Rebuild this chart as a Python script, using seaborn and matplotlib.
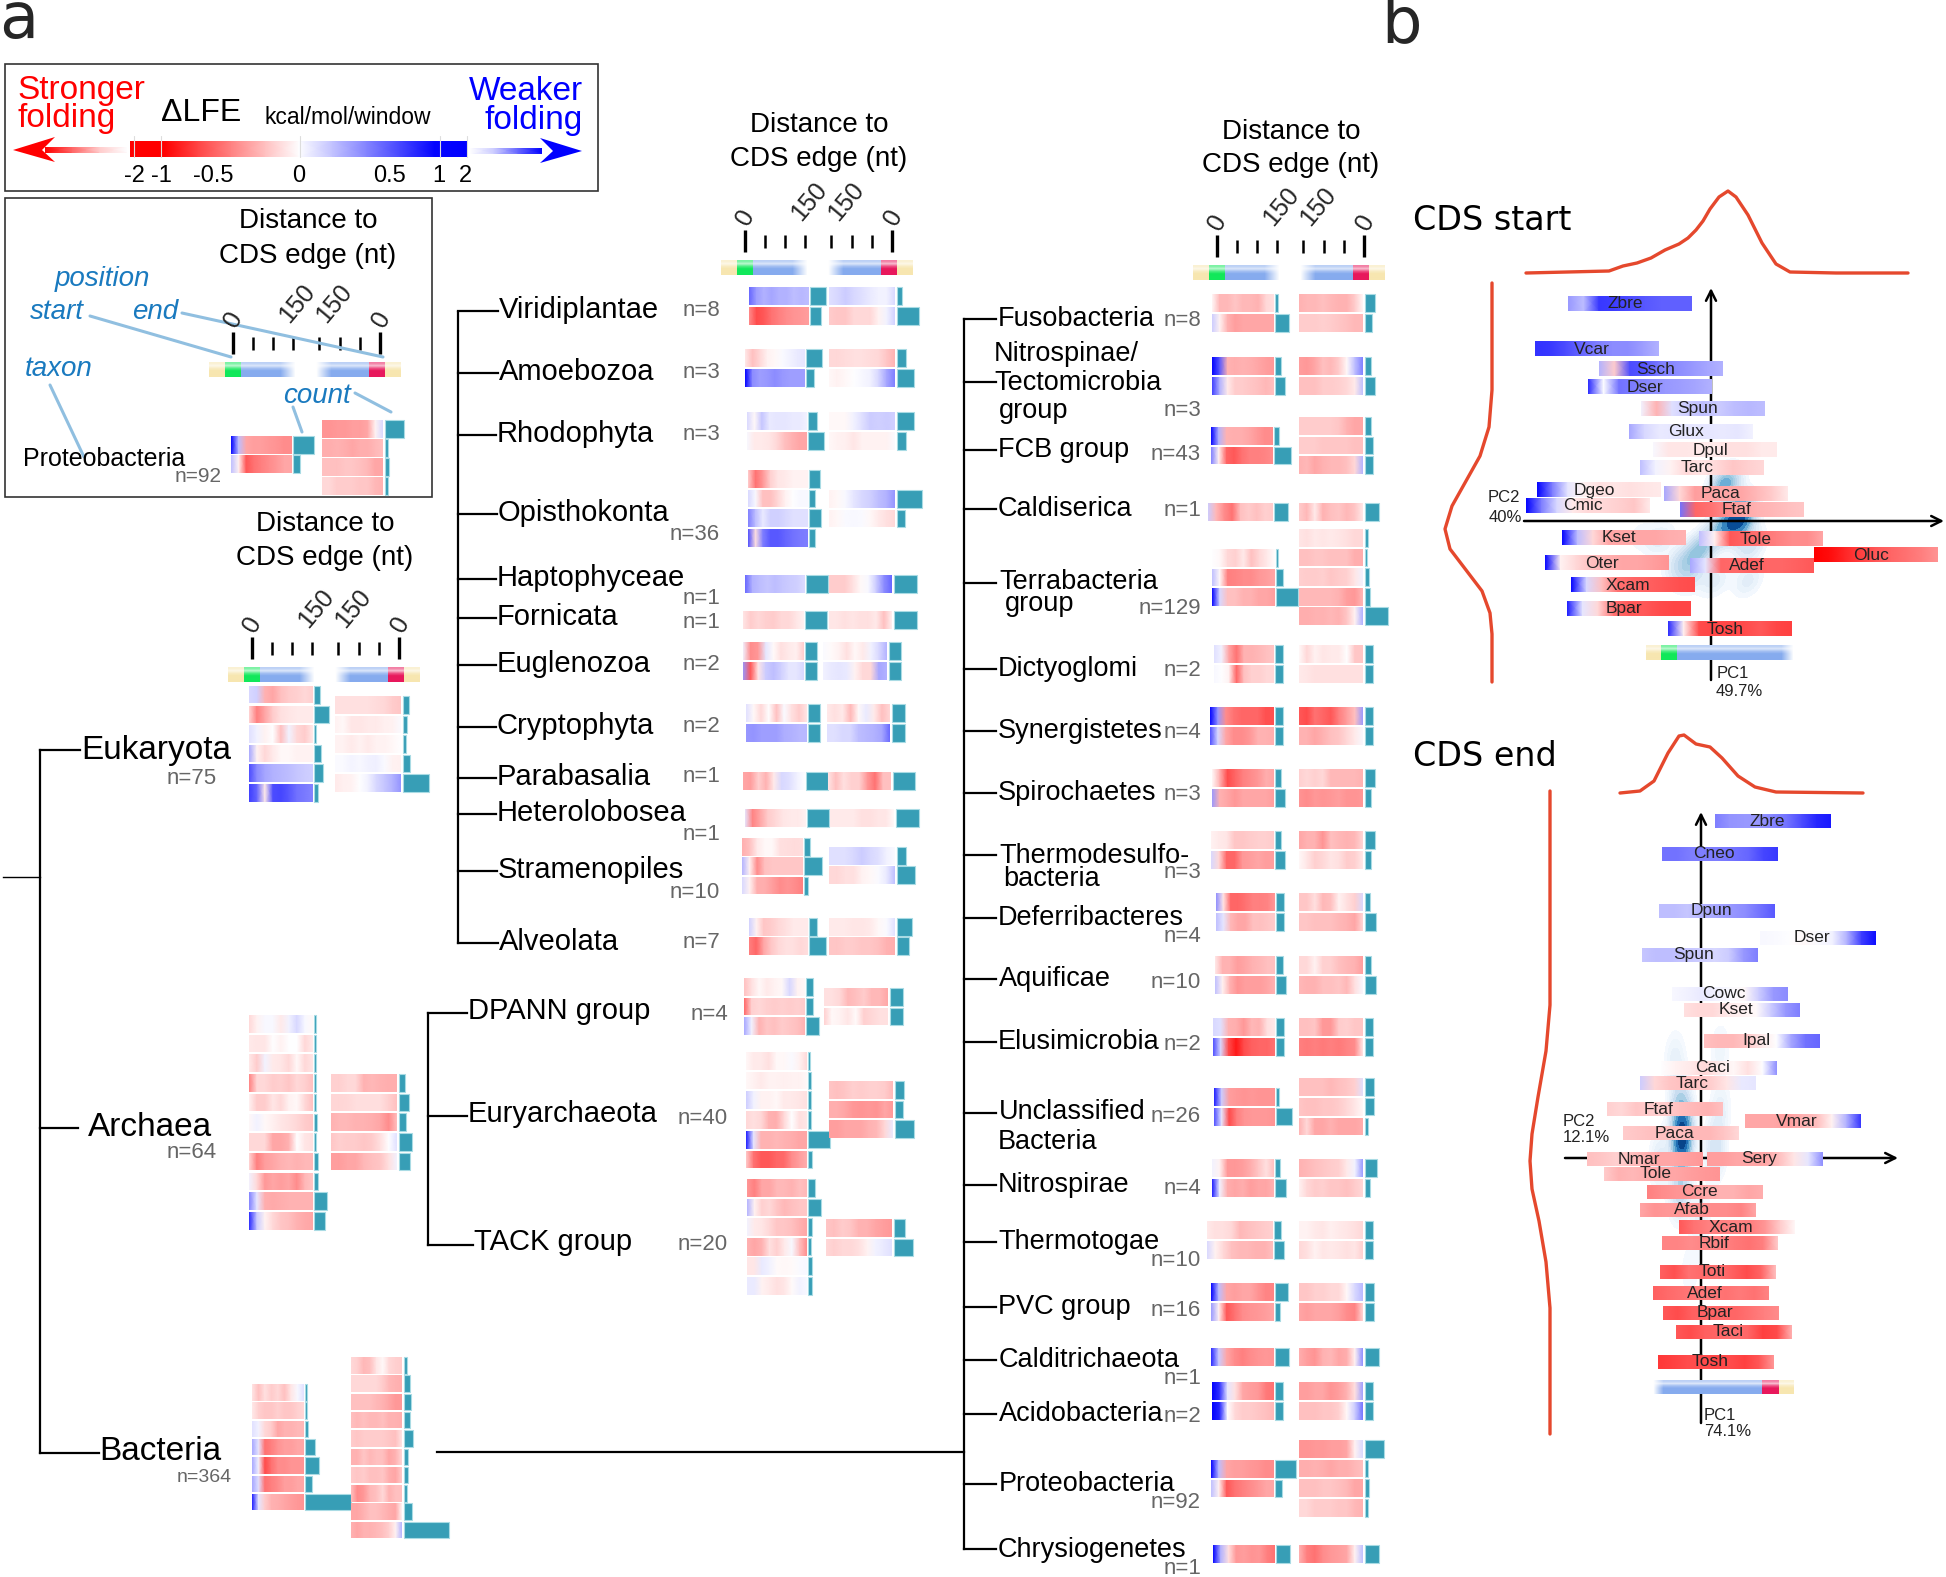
import numpy as np
import pandas as pd
import matplotlib
matplotlib.use("Agg")
from matplotlib import pyplot as plt
from matplotlib.patches import Polygon, Rectangle
import seaborn as sns

W, H = 1946, 1577

# delta LFE along each strip, hundredths of the colour scale (neg = red = stronger folding)
start_vals = {
    "Eukaryota": [[15,18,-30,-35,-25,-20,-18,-15,-18],[-15,-50,-35,-20,-12,-10,-8,-8,-8],[12,5,-5,0,-25,5,-15,-20,-8],
                  [35,-5,-15,-8,-3,-3,-5,-5,-5],[70,45,35,30,28,25,22,20,18],[75,60,-8,70,72,65,55,52,48]],
    "Archaea": [[-15,-5,3,3,-8,5,15,3,-3],[-8,-10,-10,0,-5,0,0,-15,-8],[-8,-20,5,-8,-10,-15,-3,-15,-10],
                [-50,-15,-15,-20,-18,-22,-15,-18,-25],[-5,-20,-20,-10,-15,-5,-3,-15,-25],[-3,5,-3,-6,-10,-12,-15,-20,-22],
                [-15,-15,-15,-35,-35,-30,0,-10,-12],[-15,-50,-38,-35,-30,-28,-30,-28,-28],[5,-15,-40,-35,-38,-35,-45,-28,-22],
                [50,10,-32,-33,-32,-30,-30,-30,-30],[85,20,-5,-15,-22,-25,-30,-33,-35]],
    "Bacteria": [[-10,-25,-12,-20,-15,-25,-10,3,12],[-8,-18,-22,-22,-18,-22,-22,-18,-15],[12,5,-15,-20,-35,-30,-30,-28,-28],
                 [35,10,-55,-50,-42,-38,-38,-35,-35],[35,5,-70,-55,-45,-45,-42,-42,-42],[35,12,-55,-50,-45,-38,-38,-35,-35],
                 [90,10,-20,-30,-32,-35,-38,-40,-42]],
    "Viridiplantae": [[60,38,30,35,30,30,25,28,25],[-45,-70,-65,-55,-50,-45,-42,-40,-38]],
    "Amoebozoa": [[-8,-25,-15,-5,-3,2,5,8,10],[100,45,38,40,45,40,38,38,38]],
    "Rhodophyta": [[15,-3,22,8,10,10,8,8,5],[3,-8,-8,-10,-15,-25,-30,-35,-35]],
    "Opisthokonta": [[-18,-55,-40,-18,-10,-8,-5,-5,-5],[15,3,-25,-25,-15,-5,0,3,3],[50,25,8,18,18,15,12,12,12],[70,-12,50,65,65,60,55,52,50]],
    "Haptophyceae": [[60,30,25,22,25,22,20,18,14]],
    "Fornicata": [[-10,-20,-15,-18,-20,-15,-15,-10,-5]],
    "Euglenozoa": [[5,-45,-40,10,-2,-12,-8,-6,-20],[40,-65,-10,20,25,18,10,10,15]],
    "Cryptophyta": [[12,-3,-15,0,-25,2,-12,-20,-10],[40,42,38,38,38,32,30,28,28]],
    "Parabasalia": [[-35,-38,-18,-30,-8,15,12,5,0]],
    "Heterolobosea": [[10,-48,-35,-20,-15,-10,-8,-8,-5]],
    "Stramenopiles": [[-32,-25,-8,-3,-3,-12,-13,-14,-13],[30,-5,-45,-25,-22,-22,-22,-22,-22],[15,-5,-32,-32,-38,-45,-42,-45,-50]],
    "Alveolata": [[18,-5,-22,-20,-15,-12,-8,-8,-8],[-50,-60,-35,-22,-15,-12,-12,-15,-13]],
    "DPANN": [[-25,-12,-3,-8,-5,-3,15,-5,-3],[-60,-18,-15,-18,-20,-18,-20,-18,-20],[35,5,-30,-22,-25,-20,-22,-25,-30]],
    "Euryarchaeota": [[-3,-8,-8,-12,-3,-3,2,-5,-15],[-3,-5,-8,-5,-5,-6,-5,-5,-3],[20,5,-5,-5,-3,-8,-8,-10,-12],
                      [-15,-12,-15,-30,-32,-15,0,-12,-10],[90,10,-30,-30,-28,-30,-32,-35,-35],[-20,-55,-65,-65,-60,-58,-45,-38,-32]],
    "TACK": [[-40,-50,-35,-35,-28,-28,-30,-25,-28],[30,-5,-18,-15,-22,-28,-25,-22,-22],[5,-8,-10,-15,-22,-22,-25,-30,-35],
             [-30,-35,-30,-12,-18,-8,3,-25,-45],[-10,-10,8,5,-2,-3,-2,2,3],[8,8,-5,-8,-12,-10,-2,5,3]],
    "Fusobacteria": [[-3,-28,-28,-22,-28,-28,-30,-15,-12],[20,-5,-30,-38,-35,-35,-35,-35,-35]],
    "Nitrospinae": [[100,65,-30,-32,-30,-32,-35,-38,-40],[75,30,-8,-20,-20,-22,-25,-28,-25]],
    "FCB": [[100,30,-30,-32,-32,-35,-40,-45,-45],[50,-5,-60,-65,-55,-50,-50,-48,-45]],
    "Caldiserica": [[20,-28,-45,-55,-25,-20,-25,-18,-20]],
    "Terrabacteria": [[0,-3,-15,-18,-8,-25,-15,-8,0],[25,-3,-50,-48,-45,-45,-40,-38,-35],[100,15,-25,-25,-30,-30,-35,-35,-38]],
    "Dictyoglomi": [[12,5,-35,-55,-30,-30,-28,-25,-22],[3,0,-5,-60,-25,-18,-18,-15,-15]],
    "Synergistetes": [[100,40,-45,-55,-60,-60,-60,-68,-68],[70,15,-35,-45,-45,-40,-30,-30,-32]],
    "Spirochaetes": [[-2,-30,-70,-60,-50,-45,-40,-32,-35],[40,-30,-35,-40,-35,-35,-35,-35,-38]],
    "Thermodesulfobacteria": [[-5,-8,-10,-22,-22,-20,-18,-18,-20],[15,-15,-60,-60,-40,-38,-35,-38,-38]],
    "Deferribacteres": [[45,-10,-60,-60,-55,-50,-50,-48,-40],[25,10,-28,-35,-35,-25,-25,-22,-20]],
    "Aquificae": [[-8,-30,-30,-38,-35,-30,-28,-25,-25],[25,-5,-30,-42,-38,-38,-38,-35,-30]],
    "Elusimicrobia": [[15,12,-30,-32,-40,-28,-30,-12,-8],[70,15,-70,-90,-70,-62,-60,-60,-55]],
    "Unclassified": [[90,20,-38,-40,-42,-40,-42,-42,-42],[70,10,-70,-50,-42,-40,-40,-40,-42]],
    "Nitrospirae": [[5,-5,-40,-40,-38,-32,-22,-12,-25],[90,5,-32,-35,-32,-38,-35,-35,-30]],
    "Thermotogae": [[-8,-12,-12,-15,-28,-25,-22,-20,-18],[15,-5,-15,-25,-28,-28,-30,-30,-25]],
    "PVC": [[100,25,-35,-38,-35,-35,-42,-48,-48],[40,-5,-65,-55,-45,-42,-40,-38,-35]],
    "Calditrichaeota": [[85,20,-35,-45,-50,-45,-42,-40,-42]],
    "Acidobacteria": [[100,80,10,-12,-35,-38,-40,-52,-55],[100,85,0,-15,-20,-20,-22,-25,-28]],
    "Proteobacteria": [[100,25,-35,-38,-38,-40,-42,-45,-45],[25,-5,-65,-55,-50,-45,-40,-35,-35]],
    "Chrysiogenetes": [[100,30,-12,-40,-38,-42,-40,-50,-55]],
}

end_vals = {
    "Eukaryota": [[-12,-12,-12,-12,-12,-14,-15,-20,-22],[-5,-3,-10,-10,-8,-8,-6,-5,2],[-5,-5,-8,-5,-8,-5,-5,-3,0],
                  [2,2,4,3,5,6,2,-5,-6],[-8,-6,-5,0,5,15,22,30,42]],
    "Archaea": [[-18,-18,-15,-15,-30,-28,-30,-32,-32],[-16,-16,-15,-13,-13,-13,-13,-18,-25],[-30,-28,-28,-30,-30,-32,-35,-45,-25],
                [-22,-18,-20,-20,-22,-20,-12,0,12],[-38,-38,-35,-35,-28,-25,-22,-12,5]],
    "Bacteria": [[-15,-18,-28,-25,-10,-3,-15,-18,-20],[-15,-15,-15,-15,-15,-20,-28,-30,-32],[-25,-25,-25,-25,-28,-30,-35,-40,-40],
                 [-25,-28,-25,-28,-28,-25,-30,-30,-32],[-20,-22,-20,-20,-20,-20,-22,-25,-10],[-30,-30,-22,-28,-25,-25,-35,-30,-15],
                 [-20,-22,-20,-25,-25,-22,-32,-35,-20],[-25,-45,-40,-28,-25,-15,-30,-25,-25],[-35,-35,-30,-25,-25,-28,-32,-35,-3],
                 [-30,-35,-30,-30,-28,-25,-18,-5,30]],
    "Viridiplantae": [[12,15,20,15,12,8,5,5,15],[-20,-22,-22,-15,-15,-15,-5,5,18]],
    "Amoebozoa": [[-15,-15,-14,-12,-12,-14,-15,-22,-30],[-3,-5,-3,0,3,5,15,35,50]],
    "Rhodophyta": [[-3,-3,-3,5,12,20,18,20,18],[-3,-5,-6,-10,-5,-5,-5,-5,2]],
    "Opisthokonta": [[-5,-3,3,10,15,18,25,30,42],[-5,-3,2,3,2,-3,-8,-12,-15]],
    "Haptophyceae": [[-20,-20,-20,-12,-3,3,20,45,60]],
    "Fornicata": [[-10,-10,-12,-10,-12,-12,-8,-25,-5]],
    "Euglenozoa": [[2,-2,-5,-12,-3,-8,5,15,30],[5,8,10,8,-5,-15,-15,35,30]],
    "Cryptophyta": [[-8,-12,-8,-28,-3,8,-8,-25,-15],[12,12,15,15,25,28,30,35,60]],
    "Parabasalia": [[-10,-25,-12,-18,-18,-40,-55,-25,-25]],
    "Heterolobosea": [[-8,-8,-8,-8,-12,-12,-10,-10,-2]],
    "Stramenopiles": [[12,12,12,15,20,15,12,5,2],[-15,-15,-12,-12,-5,-3,2,8,25]],
    "Alveolata": [[-8,-8,-8,-10,-10,-8,-3,2,12],[-22,-22,-20,-20,-22,-22,-25,-30,-32]],
    "DPANN": [[-12,-12,-15,-28,-25,-20,-28,-28,-35],[-18,-3,-5,-10,-2,-18,-15,-12,-12]],
    "Euryarchaeota": [[-22,-25,-22,-18,-20,-18,-18,-20,-28],[-32,-32,-35,-40,-42,-40,-42,-35,-40],[-38,-38,-35,-35,-35,-30,-28,-15,8]],
    "TACK": [[-22,-25,-20,-22,-30,-30,-35,-38,-40],[-15,-18,-15,-15,-12,-5,5,8,12]],
    "Fusobacteria": [[-30,-28,-28,-25,-28,-30,-30,-20,-3],[-20,-20,-20,-18,-20,-22,-25,-28,-28]],
    "Nitrospinae": [[-38,-40,-35,-25,-28,-20,-3,25,50],[-25,-25,-25,-20,-20,-18,-15,-8,25]],
    "FCB": [[-20,-20,-20,-20,-20,-22,-30,-35,-35],[-20,-20,-20,-22,-22,-22,-22,-25,-25],[-30,-28,-35,-30,-28,-28,-25,-15,30]],
    "Caldiserica": [[-20,-28,-8,-30,-25,-22,-28,-22,-8]],
    "Terrabacteria": [[-10,-12,-8,-10,-8,-10,-12,-15,-15],[-25,-25,-22,-22,-25,-25,-25,-32,-32],[-18,-20,-20,-18,-22,-20,-18,-10,5],
                      [-28,-28,-28,-28,-28,-30,-38,-40,-28],[-32,-32,-30,-30,-28,-30,-22,-5,32]],
    "Dictyoglomi": [[-2,-15,-5,-10,-8,-8,0,-22,-22],[-8,-10,-12,-12,-12,-12,-12,-12,-12]],
    "Synergistetes": [[-65,-70,-55,-60,-65,-50,-38,-25,40],[-30,-30,-35,-30,-25,-22,-15,-8,3]],
    "Spirochaetes": [[-18,-15,-18,-15,-28,-28,-28,-28,-30],[-42,-45,-40,-42,-40,-38,-42,-42,-40]],
    "Thermodesulfobacteria": [[-35,-30,-30,-42,-25,-28,-30,-28,-15],[-3,-10,-18,-15,-10,-12,-20,-18,-8]],
    "Deferribacteres": [[-22,-22,-12,-28,-25,-5,-12,-18,15],[-22,-22,-25,-25,-25,-28,-30,-35,-15]],
    "Aquificae": [[-15,-15,-5,-18,-18,-25,-28,-30,-38],[-28,-30,-30,-25,-25,-22,-28,-12,3]],
    "Elusimicrobia": [[-25,-25,-22,-40,-40,-20,-18,-22,-22],[-50,-52,-50,-52,-50,-52,-48,-45,-8]],
    "Unclassified": [[-25,-25,-25,-25,-28,-25,-22,-18,12],[-22,-25,-25,-22,-22,-20,-15,-10,-3],[-30,-15,-35,-35,-30,-35,-35,-35,-32]],
    "Nitrospirae": [[-30,-28,-25,-22,-20,-18,-8,5,40],[-5,-15,-20,-18,-22,-22,-25,-20,-15]],
    "Thermotogae": [[-5,-5,-8,-10,-6,-8,-10,-12,-15],[-15,-12,-5,-10,-8,-10,-12,-10,-18]],
    "PVC": [[-22,-22,-18,-18,-15,-15,-3,15,28],[-35,-38,-35,-35,-35,-38,-45,-48,-15]],
    "Calditrichaeota": [[-32,-38,-42,-30,-28,-35,-32,-5,45]],
    "Acidobacteria": [[-38,-38,-35,-35,-42,-38,-30,-12,38],[-25,-25,-25,-22,-22,-18,-3,20,55]],
    "Proteobacteria": [[-42,-42,-40,-40,-38,-38,-35,-5,15],[-32,-32,-30,-32,-35,-32,-32,-28,-25],[-25,-25,-25,-22,-22,-25,-28,-35,-35],[-15,-15,-20,-20,-20,-22,-22,-28,-30]],
    "Chrysiogenetes": [[-30,-50,-55,-45,-40,-38,-35,-5,25]],
}

# teal count bars
start_counts = {"Eukaryota":[6,15,2,7,9,4],"Archaea":[2,2,2,2,2,3,2,4,4,13,11],"Bacteria":[2,2,3,10,14,7,46],
    "Viridiplantae":[16,11],"Amoebozoa":[16,8],"Rhodophyta":[9,16],"Opisthokonta":[11,6,12,6],"Haptophyceae":[22],"Fornicata":[22],
    "Euglenozoa":[12,12],"Cryptophyta":[12,12],"Parabasalia":[22],"Heterolobosea":[22],"Stramenopiles":[6,18,4],"Alveolata":[8,17],
    "DPANN":[7,7,13],"Euryarchaeota":[2,3,3,3,22,4],"TACK":[7,13,4,3,4,4],
    "Fusobacteria":[3,14],"Nitrospinae":[6,10],"FCB":[5,17],"Caldiserica":[14],"Terrabacteria":[2,7,22],"Dictyoglomi":[8,8],
    "Synergistetes":[8,8],"Spirochaetes":[6,10],"Thermodesulfobacteria":[6,10],"Deferribacteres":[8,8],"Aquificae":[7,10],
    "Elusimicrobia":[8,8],"Unclassified":[3,16],"Nitrospirae":[5,11],"Thermotogae":[7,10],"PVC":[13,5],"Calditrichaeota":[14],
    "Acidobacteria":[8,8],"Proteobacteria":[21,7],"Chrysiogenetes":[14]}
end_counts = {"Eukaryota":[6,4,3,7,26],"Archaea":[6,10,7,13,11],"Bacteria":[3,6,7,6,9,4,4,3,8,45],
    "Viridiplantae":[5,22],"Amoebozoa":[9,17],"Rhodophyta":[17,9],"Opisthokonta":[25,8],"Haptophyceae":[23],"Fornicata":[23],
    "Euglenozoa":[12,12],"Cryptophyta":[13,13],"Parabasalia":[22],"Heterolobosea":[23],"Stramenopiles":[9,18],"Alveolata":[15,12],
    "DPANN":[13,13],"Euryarchaeota":[9,8,19],"TACK":[11,19],
    "Fusobacteria":[10,7],"Nitrospinae":[6,10],"FCB":[6,8,8],"Caldiserica":[14],"Terrabacteria":[3,2,4,5,23],"Dictyoglomi":[8,8],
    "Synergistetes":[8,8],"Spirochaetes":[10,6],"Thermodesulfobacteria":[10,6],"Deferribacteres":[5,11],"Aquificae":[6,11],
    "Elusimicrobia":[8,8],"Unclassified":[9,9,3],"Nitrospirae":[12,5],"Thermotogae":[8,8],"PVC":[9,9],"Calditrichaeota":[14],
    "Acidobacteria":[8,8],"Proteobacteria":[19,3,4,3],"Chrysiogenetes":[14]}

# layout: left x, left y, right x, right y, left width, right width, pitch, height
blocks = {"Eukaryota":(249,686,335,696,64,66,19.6,17.5),"Archaea":(249,1015,331,1074,64,66,19.7,17.5),"Bacteria":(252,1384,351,1357,52,51,18.3,16.5),
    "Viridiplantae":(749,287,829,287,60,66,20,17.7),"Amoebozoa":(745,349,829,349,60,66,20,17.7),"Rhodophyta":(747,412,829,412,60,66,20,17.7),
    "Opisthokonta":(748,470,829,490,60,66,19.6,17.7),"Haptophyceae":(745,575,829,575,60,63,20,17.7),"Fornicata":(743,611,829,611,61,63,20,17.7),
    "Euglenozoa":(743,642,823,642,61,64,20,17.7),"Cryptophyta":(746,704,827,704,61,63,20,17.7),"Parabasalia":(743,772,828,772,62,63,20,17.7),
    "Heterolobosea":(745,809,830,809,61,64,20,17.7),"Stramenopiles":(742,838,829,847,61,66,19.4,17.7),"Alveolata":(749,918,829,918,59,66,19.4,17.7),
    "DPANN":(744,978,824,988,61,64,19.6,17.7),"Euryarchaeota":(746,1052,829,1081,61,64,19.7,17.7),"TACK":(747,1179,826,1219,60,66,19.6,17.7),
    "Fusobacteria":(1212,294,1299,294,62,64,20,17.7),"Nitrospinae":(1212,357,1299,357,62,64,20,17.7),"FCB":(1211,427,1299,417,62,64,19.7,17.7),
    "Caldiserica":(1208,503,1299,503,65,64,20,17.7),"Terrabacteria":(1212,549,1299,529,63,64,19.6,17.7),"Dictyoglomi":(1214,645,1299,645,60,64,20,17.7),
    "Synergistetes":(1210,707,1299,707,64,64,20,17.7),"Spirochaetes":(1212,769,1299,769,62,64,20,17.7),"Thermodesulfobacteria":(1211,831,1299,831,63,64,20,17.7),
    "Deferribacteres":(1216,893,1299,893,59,64,20,17.7),"Aquificae":(1215,956,1299,956,60,64,20,17.7),"Elusimicrobia":(1213,1018,1299,1018,62,64,20,17.7),
    "Unclassified":(1214,1088,1299,1078,61,64,19.8,17.7),"Nitrospirae":(1212,1159,1299,1159,62,64,20,17.7),"Thermotogae":(1207,1221,1299,1221,66,64,20,17.7),
    "PVC":(1211,1283,1299,1283,63,64,20,17.7),"Calditrichaeota":(1211,1348,1299,1348,63,64,20,17.7),"Acidobacteria":(1212,1382,1299,1382,62,64,20,17.7),
    "Proteobacteria":(1211,1460,1299,1440,63,64,19.7,17.7),"Chrysiogenetes":(1213,1545,1299,1545,62,64,20,17.7)}

# tree labels: text, x, y
mid_labels = [("Viridiplantae",499,310),("Amoebozoa",499,372),("Rhodophyta",497,434),("Opisthokonta",498,513),("Haptophyceae",497,578),
    ("Fornicata",497,617),("Euglenozoa",497,664),("Cryptophyta",497,726),("Parabasalia",497,777),("Heterolobosea",497,813),
    ("Stramenopiles",498,870),("Alveolata",499,942)]
mid_n = [("n=8",310),("n=3",372),("n=3",434),("n=36",535),("n=1",598),("n=1",623),("n=2",665),("n=2",727),("n=1",777),("n=1",835),("n=10",892),("n=7",942)]
arch_labels = [("DPANN group",468,1011),("Euryarchaeota",468,1114),("TACK group",474,1242)]
arch_n = [("n=4",1014),("n=40",1118),("n=20",1245)]
right_labels = [("Fusobacteria",998,319),("Nitrospinae/",994,354),("Tectomicrobia",994,383),("group",999,411),("FCB group",998,450),("Caldiserica",998,509),
    ("Terrabacteria",999,582),("group",1005,604),("Dictyoglomi",998,669),("Synergistetes",998,731),("Spirochaetes",998,793),("Thermodesulfo-",999,856),
    ("bacteria",1003,879),("Deferribacteres",998,918),("Aquificae",999,979),("Elusimicrobia",998,1042),("Unclassified",999,1112),("Bacteria",998,1142),
    ("Nitrospirae",998,1185),("Thermotogae",998,1242),("PVC group",998,1307),("Calditrichaeota",999,1360),("Acidobacteria",999,1414),
    ("Proteobacteria",999,1484),("Chrysiogenetes",998,1550)]
right_n = [("n=8",321),("n=3",410),("n=43",454),("n=1",511),("n=129",609),("n=2",671),("n=4",733),("n=3",795),("n=3",872),("n=4",936),("n=10",983),
    ("n=2",1045),("n=26",1116),("n=4",1188),("n=10",1260),("n=16",1310),("n=1",1379),("n=2",1416),("n=92",1502),("n=1",1569)]
right_ticks = [319,382,450,509,583,669,731,793,855,918,979,1042,1113,1185,1242,1307,1360,1414,1484,1549]

# panel b: CDS start
b1_names = ["Zbre","Vcar","Ssch","Dser","Spun","Glux","Dpul","Tarc","Dgeo","Cmic","Paca","Ftaf","Kset","Tole","Oluc","Oter","Adef","Xcam","Bpar","Tosh"]
b1_x = [1568,1535,1599,1588,1641,1629,1653,1640,1537,1526,1664,1680,1562,1699,1814,1545,1690,1571,1567,1668]
b1_y = [296,341,361,379,401,424,442,460,482,498,486,502,530,531,547,555,558,577,601,621]
b1_vals = [[40,25,78,75,70,65,62,62,62],[80,78,70,60,50,45,45,38,30],[30,-20,70,65,50,45,40,35,30],[85,0,55,50,45,40,38,35,30],[5,-30,12,20,25,20,25,28,25],
    [35,15,8,10,10,10,8,10,5],[3,-10,-10,-8,-8,-12,-12,-8,-8],[25,5,-5,-15,-10,-15,-22,-18,-15],[100,50,10,-5,-12,-10,-12,-10,-8],[100,50,15,-8,-15,-15,-18,-22,-8],
    [35,-15,-38,-35,-35,-35,-28,-20,-8],[55,-60,-55,-45,-35,-30,-28,-25,-22],[100,25,-15,-35,-35,-35,-35,-32,-30],[25,-5,-65,-60,-55,-50,-45,-45,-35],
    [-100,-95,-85,-75,-65,-60,-55,-50,-42],[100,-5,-15,-25,-30,-35,-35,-38,-42],[35,10,-60,-58,-62,-60,-60,-62,-65],[100,15,-25,-55,-60,-62,-65,-68,-70],
    [90,10,-15,-55,-65,-65,-70,-72,-72],[85,-5,-70,-72,-72,-70,-65,-72,-75]]

# panel b: CDS end
b2_names = ["Zbre","Cneo","Dpun","Dser","Spun","Cowc","Kset","Ipal","Caci","Tarc","Ftaf","Vmar","Paca","Nmar","Sery","Tole","Ccre","Afab","Xcam","Rbif","Toti","Adef","Bpar","Taci","Tosh"]
b2_x = [1715,1662,1659,1760,1642,1672,1684,1704,1661,1640,1607,1745,1623,1587,1707,1604,1647,1640,1679,1662,1660,1653,1663,1676,1658]
b2_y = [814,847,904,931,948,987,1003,1034,1061,1076,1102,1114,1126,1152,1152,1167,1185,1203,1220,1236,1265,1286,1306,1325,1355]
b2_vals = [[50,42,40,40,48,55,70,85,90],[55,55,50,50,50,55,60,72,78],[25,25,22,30,35,40,45,55,65],[3,2,0,-3,2,5,30,75,95],[22,25,25,22,20,15,20,40,50],
    [3,5,8,5,2,-3,20,40,45],[-12,-15,-15,-8,-5,-2,20,40,50],[-25,-28,-28,-22,-8,0,35,55,60],[0,-5,-8,-15,-8,-3,-12,0,45],[20,-15,-22,-25,-22,-18,-10,8,10],
    [-18,-15,-22,-20,-20,-25,-28,-30,-25],[-35,-35,-35,-38,-30,-25,-5,30,80],[-20,-22,-25,-25,-25,-28,-28,-22,-15],[-25,-22,-18,-25,-30,-35,-35,-38,-40],
    [-38,-38,-35,-35,-35,-25,-10,10,45],[-20,-30,-28,-32,-35,-35,-38,-40,-42],[-50,-45,-42,-40,-35,-30,-30,-35,-32],[-35,-42,-40,-42,-42,-45,-45,-48,-35],
    [-65,-55,-50,-50,-48,-50,-40,-20,-3],[-48,-48,-45,-48,-48,-52,-55,-50,-20],[-62,-68,-55,-58,-55,-62,-70,-60,-25],[-62,-58,-55,-52,-52,-55,-52,-55,-48],
    [-65,-70,-62,-60,-60,-60,-55,-50,-45],[-65,-70,-62,-60,-55,-60,-75,-70,-30],[-78,-75,-70,-70,-72,-70,-75,-65,-40]]

# marginal density curves
top1_x = [1526,1609,1623,1637,1651,1665,1679,1688,1696,1703,1710,1719,1728,1736,1748,1762,1776,1790,1836,1908]
top1_y = [273,271,266,263,258,250,244,238,230,221,209,197,191,197,215,243,264,272,273,273]
left1_x = [1492,1492,1489,1480,1466,1452,1445,1450,1466,1482,1490,1492,1492]
left1_y = [283,390,427,456,481,506,529,549,570,591,613,634,682]
top2_x = [1620,1640,1654,1668,1679,1684,1696,1710,1722,1738,1755,1776,1863]
top2_y = [793,791,781,753,736,735,744,747,758,776,787,792,793]
left2_x = [1550,1550,1546,1538,1532,1530,1532,1539,1546,1550,1550]
left2_y = [791,1005,1051,1097,1134,1161,1189,1221,1262,1308,1434]

# density blobs: x, y, weight
kde1_x = [1725,1738,1738,1720,1700,1680,1660,1640,1714,1748,1690,1750]
kde1_y = [484,523,510,530,549,563,540,535,581,581,575,545]
kde1_w = [7,9,6,4,5,3,2,1,2,2,3,3]
kde2_x = [1682,1682,1680,1715,1680,1675,1720,1720,1700,1690,1660]
kde2_y = [1143,1125,1100,1150,1190,1060,1050,1110,1220,1270,1160]
kde2_w = [10,6,3,3,4,1.5,1,1.5,1.5,0.8,2]

cbar_vals = [-100,-100,-73,-49,-25,0,24,48,72,97,100]
cbar_ticks = [("-2",134),("-1",161),("-0.5",213),("0",299),("0.5",389),("1",439),("2",465)]
cbar_lines = [134,161,300,440,467]

rulers = [(233,332),(745,230),(1217,235),(252,637)]
dist_text = [(308,221,256),(819,125,159),(1291,132,165),(325,524,558)]

TAN, GREEN, BLUE, PINK = "#f7e6b0", "#12e85a", "#86abee", "#e8185c"
TEAL = "#379eb6"
FIT = "#e5482d"
GRAY = "#666666"

sns.set_theme(style="white")
plt.rcParams['font.family'] = ['Liberation Sans', 'DejaVu Sans']
fig = plt.figure(figsize=(W / 100, H / 100), dpi=100)


def base_axes(z):
    a = fig.add_axes([0, 0, 1, 1], zorder=z)
    a.set_xlim(0, W)
    a.set_ylim(H, 0)
    a.axis("off")
    a.patch.set_alpha(0)
    return a


ax = base_axes(1)
top = base_axes(3)


def strip(vals, x, y, w, h):
    a = fig.add_axes([x / W, 1 - (y + h) / H, w / W, h / H], zorder=2)
    sns.heatmap(pd.DataFrame([vals, vals]), cmap="bwr_r", vmin=-100, vmax=100, cbar=False,
                xticklabels=False, yticklabels=False, shading="gouraud", ax=a)
    a.set_xlim(0, len(vals) - 1)
    a.set_ylim(1, 0)
    a.axis("off")


def bars(counts, x, y, pitch, h):
    for i, c in enumerate(counts):
        ax.barh(y + i * pitch + h / 2, c, left=x, height=h, color=TEAL, edgecolor="#a9dbe4", linewidth=0.8, zorder=2)


def block(name, xl, yl, xr, yr, wl, wr, pitch, h):
    for i, v in enumerate(start_vals[name]):
        strip(v, xl, yl + i * pitch, wl, h)
    for i, v in enumerate(end_vals[name]):
        strip(v, xr, yr + i * pitch, wr, h)
    bars(start_counts[name], xl + wl + 1, yl, pitch, h)
    bars(end_counts[name], xr + wr + 2, yr, pitch, h)


def half_bar(x, y, segs, h=15, fade_left=0, fade_right=0):
    cols = []
    for c, n in segs:
        cols += [matplotlib.colors.to_rgb(c)] * int(n)
    cols = np.array(cols)
    mix = np.ones(len(cols))
    if fade_left:
        mix[:fade_left] = np.arange(fade_left) / fade_left
    if fade_right:
        mix[-fade_right:] = 1 - (np.arange(fade_right) + 1) / fade_right
    rows = np.array([0.55, 0.3, 0.75, 1, 1, 1])
    img = np.ones((len(rows), len(cols), 3))
    for r, m in enumerate(rows):
        img[r] = 1 - (1 - cols) * (m * mix)[:, None]
    ax.imshow(img, extent=[x, x + len(cols), y + h, y], aspect="auto", interpolation="bilinear", zorder=3)


def ruler(x0, y0):
    for dx in [0, 20, 40, 60, 86, 107, 127, 147]:
        big = dx in (0, 147)
        ax.plot([x0 + dx] * 2, [y0, y0 + 22] if big else [y0 + 5, y0 + 18], color="black", lw=2.4 if big else 1.8, solid_capstyle="butt")
    half_bar(x0 - 24, y0 + 30, [(TAN, 16), (GREEN, 16), (BLUE, 55)], fade_right=15)
    half_bar(x0 + 83, y0 + 30, [(BLUE, 53), (PINK, 16), (TAN, 16)], fade_left=15)
    for s, dx, dy, rot in [("0", 0, -13, 60), ("150", 64, -28, 50), ("150", 101, -28, 50), ("0", 148, -13, 60)]:
        top.text(x0 + dx, y0 + dy, s, fontsize=18, rotation=rot, ha="center", va="center", rotation_mode="anchor")


def label(x, y, s, size=21, color="black", ha="left", **kw):
    top.text(x, y, s, fontsize=size, color=color, ha=ha, va="center", **kw)


def line(xs, ys, lw=1.6, color="black"):
    ax.plot(xs, ys, color=color, lw=lw, solid_capstyle="projecting", zorder=2)


def curve(xs, ys):
    sns.lineplot(x=xs, y=ys, sort=False, estimator=None, color=FIT, lw=2.4, ax=ax)


def arrow(x0, y0, x1, y1, lw=1.8):
    ax.annotate("", xy=(x1, y1), xytext=(x0, y0), arrowprops=dict(arrowstyle="->", lw=lw, color="black", shrinkA=0, shrinkB=0, mutation_scale=18), zorder=2)


# density clouds first so everything sits on top
for kx, ky, kw, bw in [(kde1_x, kde1_y, kde1_w, 0.55), (kde2_x, kde2_y, kde2_w, 0.55)]:
    sns.kdeplot(x=kx, y=ky, weights=kw, fill=True, levels=12, thresh=0.06, cmap="Blues", bw_adjust=bw, ax=ax, zorder=1)

# panel labels
top.text(-1, 20, "a", fontsize=46, family="DejaVu Sans", va="center")
top.text(1381, 24, "b", fontsize=46, family="DejaVu Sans", va="center")

# colour legend
ax.add_patch(Rectangle((5, 64), 593, 127, fill=False, ec="#333333", lw=1.2))
label(17, 90, "Stronger", 24, "#ff0000")
label(17, 119, "folding", 24, "#ff0000")
label(583, 91, "Weaker", 24, "#0000ff", ha="right")
label(583, 120, "folding", 24, "#0000ff", ha="right")
label(161, 113, "\u0394LFE", 23)
label(264, 117, "kcal/mol/window", 16.5)
strip(cbar_vals, 130, 141, 338, 16)
for cx in cbar_lines:
    top.plot([cx, cx], [136, 157], color="#dddddd", lw=0.8)
for s, cx in cbar_ticks:
    label(cx, 176, s, 17, ha="center")
strip([-100, -60, -20, 0], 45, 147, 82, 6)
strip([0, 20, 60, 100], 470, 148, 72, 6)
ax.add_patch(Polygon([(13, 150), (55, 137), (42, 150), (55, 162)], color="#ff0000", lw=0))
ax.add_patch(Polygon([(582, 151), (540, 138), (553, 151), (540, 163)], color="#0000ff", lw=0))

# how-to-read box
ax.add_patch(Rectangle((5, 198), 427, 299, fill=False, ec="#333333", lw=1.2))
ITAL = "#1a7abf"
for s, x, y in [("position", 55, 279), ("start", 30, 312), ("end", 132, 312), ("taxon", 25, 369), ("count", 283, 396)]:
    label(x, y, s, 20, ITAL, style="italic")
for xs, ys in [([90, 231], [316, 357]), ([182, 383], [313, 357]), ([50, 84], [385, 457]), ([293, 302], [407, 432]), ([355, 391], [393, 412])]:
    top.plot(xs, ys, color="#90bfe0", lw=2.2)
label(23, 459, "Proteobacteria", 18)
label(222, 477, "n=92", 15, GRAY, ha="right")
block("Proteobacteria", 231, 436, 322, 420, 61, 61, 19, 17.5)

# rulers and their titles
for x0, y0 in rulers:
    ruler(x0, y0)
for x, y1, y2 in dist_text:
    label(x, y1, "Distance to", 20, ha="center")
    label(x, y2, "CDS edge (nt)", 20, ha="center")

# heat strips
for name, b in blocks.items():
    block(name, *b)

# root tree
line([40, 40], [750, 1453])
line([3, 40], [877, 877], lw=1)
line([40, 80], [750, 750])
line([40, 78], [1128, 1128])
line([40, 99], [1453, 1453])
label(81, 751, "Eukaryota", 24)
label(217, 779, "n=75", 16, GRAY, ha="right")
label(88, 1127, "Archaea", 24)
label(217, 1152, "n=64", 16, GRAY, ha="right")
label(99, 1452, "Bacteria", 24)
label(232, 1477, "n=364", 14, GRAY, ha="right")

# eukaryote subtree
line([458, 458], [312, 943])
for s, x, y in mid_labels:
    line([458, x - 1], [y + 1, y + 1])
    label(x, y, s)
for s, y in mid_n:
    label(720, y, s, 16, GRAY, ha="right")

# archaea subtree
line([428, 428], [1013, 1245])
for (s, x, y), yt in zip(arch_labels, [1013, 1116, 1245]):
    line([428, x - 1], [yt, yt])
    label(x, y, s)
for s, y in arch_n:
    label(728, y, s, 16, GRAY, ha="right")

# bacteria subtree
line([964, 964], [319, 1549])
line([437, 964], [1452, 1452])
for y in right_ticks:
    line([964, 996], [y, y])
for s, x, y in right_labels:
    label(x, y, s, 19.5)
for s, y in right_n:
    label(1201, y, s, 16, GRAY, ha="right")

# panel b: CDS start
label(1413, 221, "CDS start", 24, family="DejaVu Sans")
curve(top1_x, top1_y)
curve(left1_x, left1_y)
arrow(1711, 680, 1711, 288)
arrow(1524, 521, 1944, 521)
half_bar(1646, 645, [(TAN, 15), (GREEN, 16), (BLUE, 117)], fade_right=12)
for nm, x, y, v in zip(b1_names, b1_x, b1_y, b1_vals):
    strip(v, x, y, 124, 15)
    label(x + 57, y + 8, nm, 12.5, "#222222", ha="center")
label(1520, 497, "PC2", 12, "#222222", ha="right")
label(1522, 517, "40%", 12, "#222222", ha="right")
label(1717, 673, "PC1", 12, "#222222")
label(1716, 692, "49.7%", 12, "#222222")

# panel b: CDS end
label(1413, 756, "CDS end", 24, family="DejaVu Sans")
curve(top2_x, top2_y)
curve(left2_x, left2_y)
arrow(1701, 1423, 1701, 812)
arrow(1565, 1158, 1898, 1158)
half_bar(1653, 1380, [(BLUE, 109), (PINK, 17), (TAN, 15)], h=14, fade_left=10)
for nm, x, y, v in zip(b2_names, b2_x, b2_y, b2_vals):
    strip(v, x, y, 116, 14)
    label(x + 52, y + 7, nm, 12.5, "#222222", ha="center")
label(1563, 1122, "PC2", 12, "#222222")
label(1563, 1138, "12.1%", 12, "#222222")
label(1704, 1416, "PC1", 12, "#222222")
label(1704, 1432, "74.1%", 12, "#222222")

ax.set_xlim(0, W)
ax.set_ylim(H, 0)
top.set_xlim(0, W)
top.set_ylim(H, 0)
fig.savefig("out.png", dpi=100)
